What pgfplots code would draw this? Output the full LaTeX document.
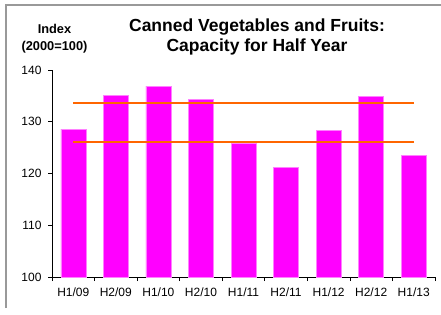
\documentclass[border=0pt]{standalone}
\usepackage{pgfplots}
\pgfplotsset{compat=1.18}
\usepackage{fontspec}
\setmainfont{Liberation Sans}
\definecolor{barmag}{HTML}{FF00FF}
\definecolor{baredge}{HTML}{FF80FF}
\definecolor{lineorange}{HTML}{FF6600}
\begin{document}
\begin{tikzpicture}
\path[use as bounding box] (0pt,0pt) rectangle (441pt,314pt);
\draw[gray!80, line width=1.5pt] (6pt,6pt) -- (6pt,309pt) -- (441pt,309pt);
\begin{axis}[
  at={(52pt,37pt)}, anchor=south west,
  scale only axis, width=383pt, height=207pt,
  xmin=-0.5, xmax=8.5, ymin=100, ymax=140,
  axis x line*=bottom, axis y line*=left,
  axis line style={-, black, line width=0.6pt},
  xtick={-0.5,0.5,...,8.5},
  xticklabels={H1/09,H2/09,H1/10,H2/10,H1/11,H2/11,H1/12,H2/12,H1/13},
  x tick label as interval,
  ytick={100,110,120,130,140},
  tick align=outside, major tick length=4pt,
  tick style={black, line width=0.6pt},
  /pgf/number format/assume math mode=true,
  tick label style={font=\fontsize{12}{14}\selectfont},
  x tick label style={yshift=-3pt},
  y tick label style={xshift=-3pt},
  clip=false,
]
\addplot[ybar, bar width=25pt, fill=barmag, draw=baredge, line width=0.5pt]
  coordinates {(0,128.6) (1,135.1) (2,136.9) (3,134.3) (4,125.9) (5,121.2) (6,128.4) (7,134.9) (8,123.5)};
\addplot[sharp plot, lineorange, line width=2pt, mark=none]
  coordinates {(0,133.7) (8,133.7)};
\addplot[sharp plot, lineorange, line width=2pt, mark=none]
  coordinates {(0,126.0) (8,126.0)};
\end{axis}
\node[anchor=base, font=\bfseries\fontsize{17.5}{20}\selectfont] at (257pt,282pt) {Canned Vegetables and Fruits:};
\node[anchor=base, font=\bfseries\fontsize{17.5}{20}\selectfont] at (257pt,262pt) {Capacity for Half Year};
\node[anchor=base, font=\bfseries\fontsize{12.8}{15}\selectfont] at (54.5pt,280pt) {Index};
\node[anchor=base, font=\bfseries\fontsize{12.8}{15}\selectfont] at (54.5pt,264pt) {(2000=100)};
\end{tikzpicture}
\end{document}
